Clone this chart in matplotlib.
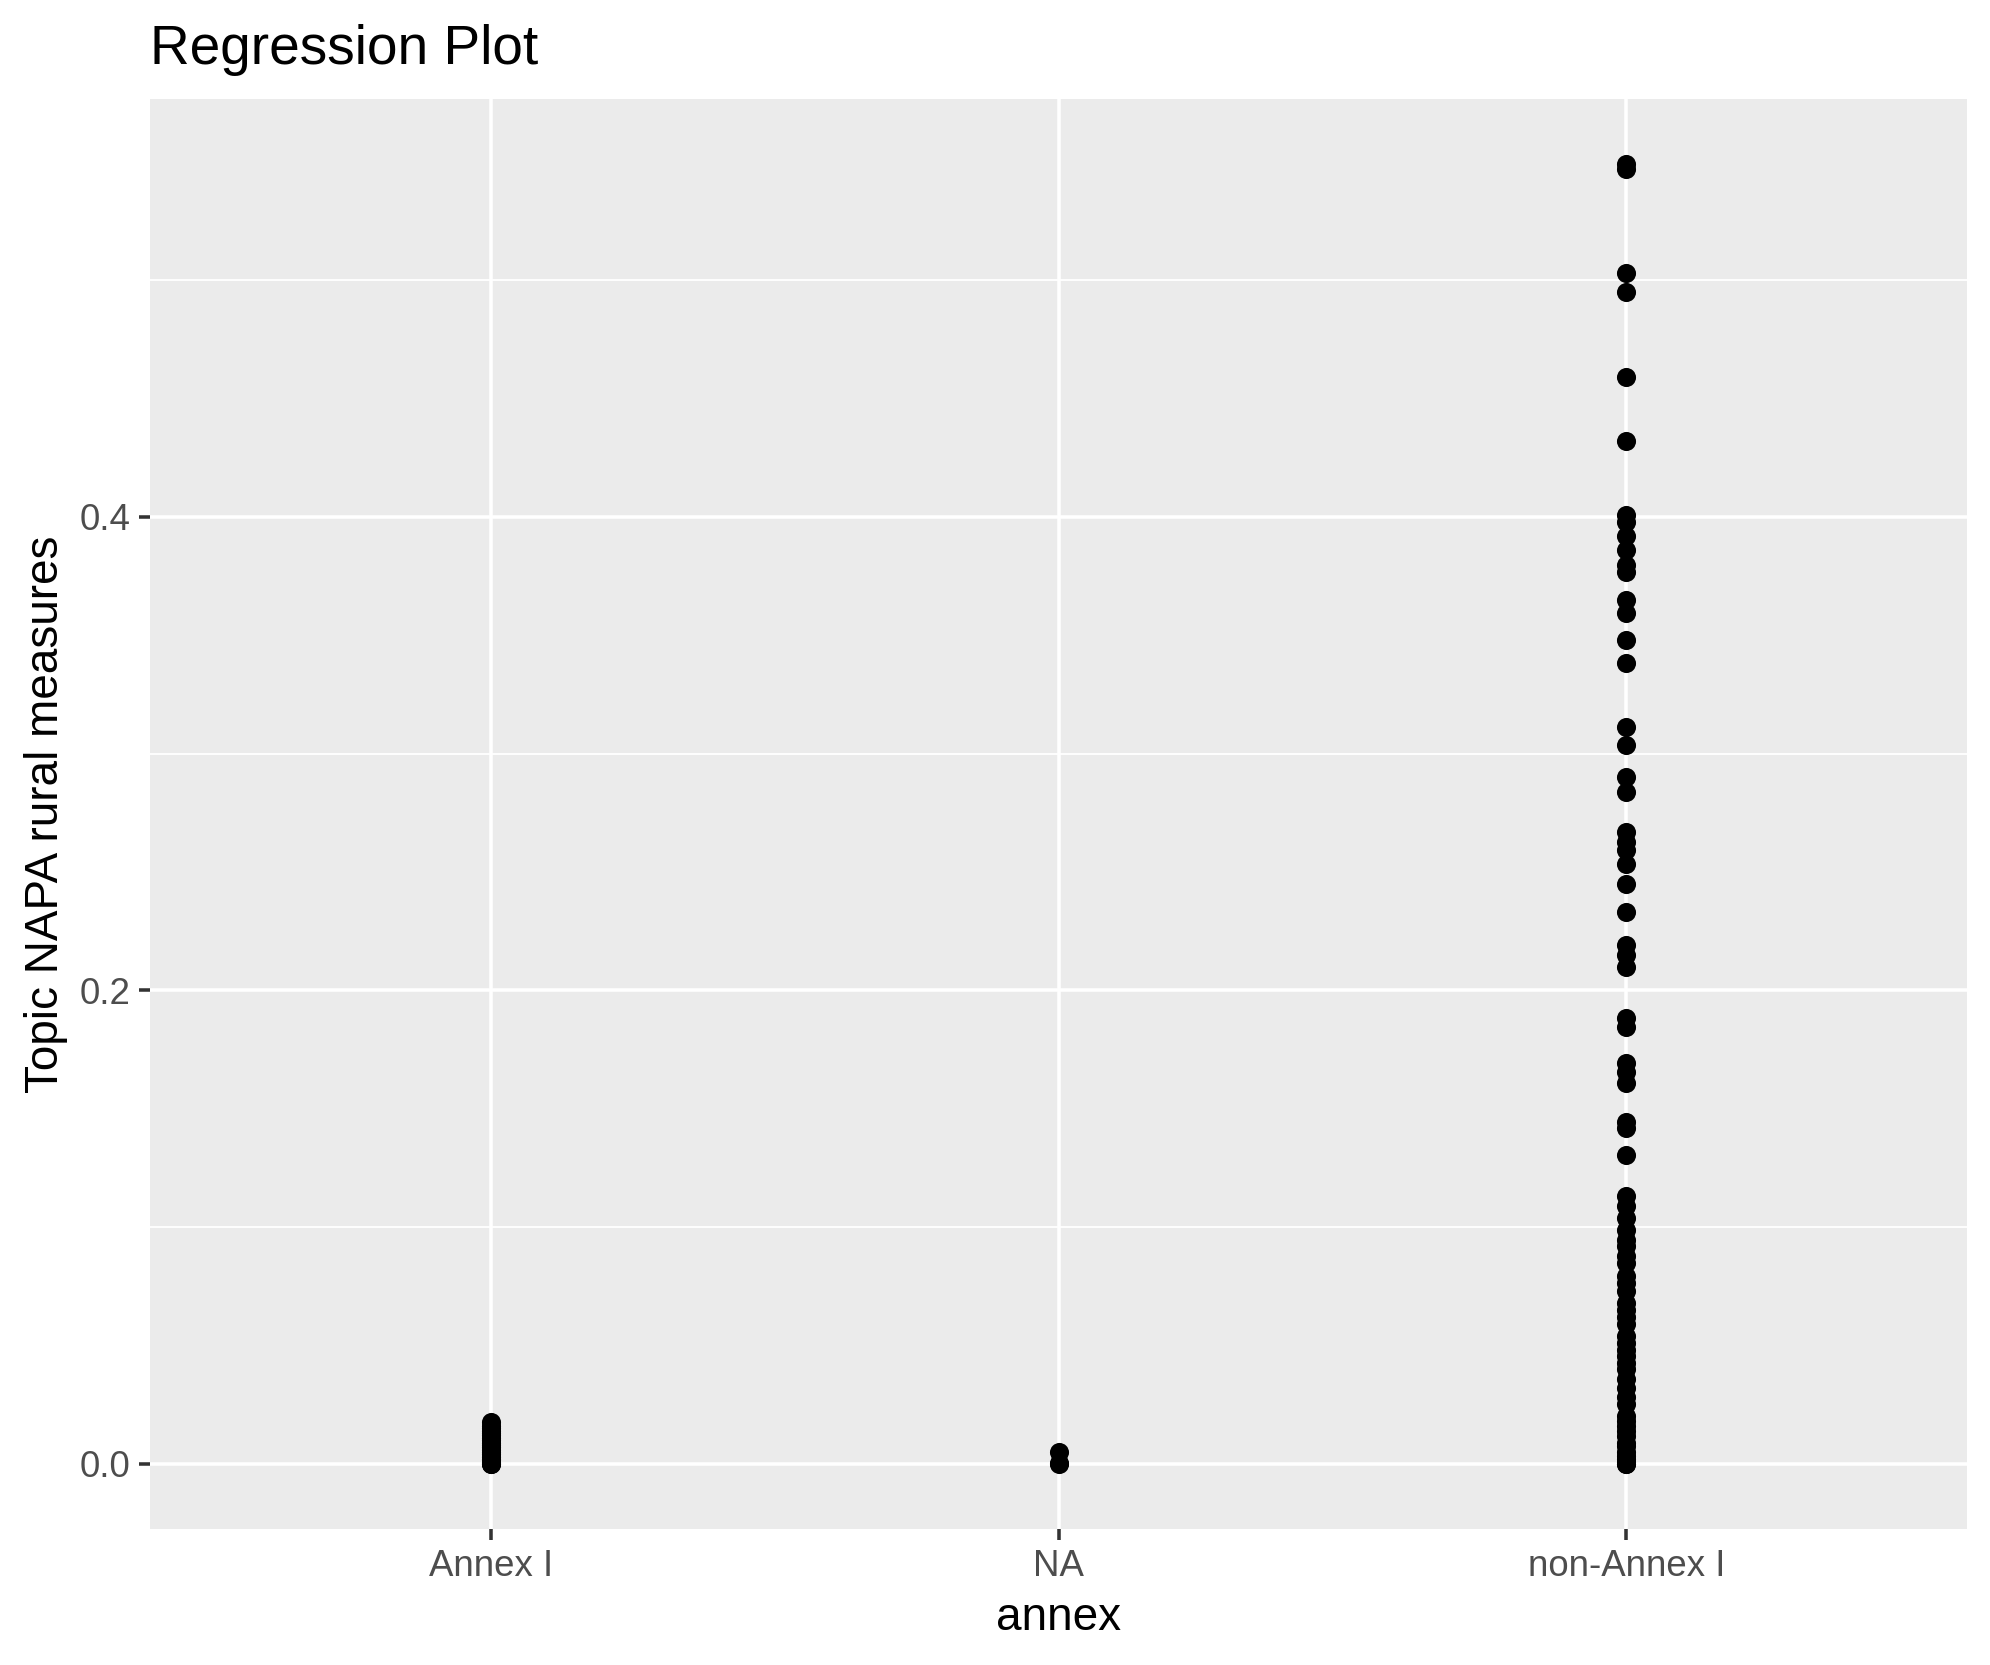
import matplotlib.pyplot as plt
from matplotlib.ticker import MultipleLocator
import numpy as np

plt.rcParams['font.family'] = ['Liberation Sans', 'DejaVu Sans']

categories = ['Annex I', 'NA', 'non-Annex I']

# topic share per document
annex_i = [0.0, 0.0, 0.0005, 0.001, 0.0015, 0.002, 0.003, 0.004, 0.005, 0.006,
           0.007, 0.008, 0.009, 0.010, 0.011, 0.012, 0.013, 0.014, 0.015,
           0.016, 0.0175]
na = [0.0, 0.0005, 0.005]
non_annex_i = [0.549, 0.547, 0.503, 0.495, 0.459, 0.432,
               0.401, 0.398, 0.392, 0.386, 0.3796, 0.3767, 0.3648, 0.3592,
               0.348, 0.3383, 0.3113, 0.3036, 0.2902, 0.2839, 0.267, 0.2628,
               0.2593, 0.2534, 0.2449, 0.2333, 0.2192, 0.215, 0.21,
               0.1883, 0.1847, 0.1693, 0.1657, 0.1608, 0.1446, 0.1419, 0.1306,
               0.113, 0.1088, 0.1039, 0.0989, 0.0945, 0.0919, 0.0876, 0.0849,
               0.0792, 0.0763, 0.0729, 0.068, 0.065, 0.062, 0.0589, 0.0539,
               0.0512, 0.0483, 0.0455, 0.0427, 0.0399, 0.036, 0.0321, 0.0282,
               0.0251, 0.0202, 0.018, 0.0159, 0.014, 0.0117, 0.009, 0.0075,
               0.005, 0.0033, 0.002, 0.001, 0.0, 0.0]

groups = [annex_i, na, non_annex_i]

fig = plt.figure(figsize=(1990 / 300, 1665 / 300), dpi=300)
ax = fig.add_axes([150 / 1990, 1 - 1529 / 1665, (1967 - 150) / 1990, (1529 - 99) / 1665])
ax.set_facecolor('#EBEBEB')
for s in ax.spines.values():
    s.set_visible(False)

for i, vals in enumerate(groups):
    ax.scatter(np.full(len(vals), i + 1), vals, s=21, color='black',
               linewidths=0, zorder=3)

ax.set_xlim(0.4, 3.6)
ax.set_ylim(-0.0275, 0.5765)
ax.set_xticks([1, 2, 3])
ax.set_xticklabels(categories)
ax.yaxis.set_major_locator(MultipleLocator(0.2))
ax.yaxis.set_minor_locator(MultipleLocator(0.1))
ax.yaxis.set_major_formatter(plt.FuncFormatter(lambda v, p: '%.1f' % v))

ax.grid(which='major', color='white', linewidth=0.85, zorder=0)
ax.grid(which='minor', axis='y', color='white', linewidth=0.45, zorder=0)
ax.set_axisbelow(True)
ax.tick_params(which='major', length=2.75, width=0.85, color='#333333',
               labelcolor='#4D4D4D', labelsize=8.8, pad=2)
ax.tick_params(which='minor', length=0)

ax.set_xlabel('annex', fontsize=11, labelpad=3)
ax.set_ylabel('Topic NAPA rural measures', fontsize=11, labelpad=2.8)
ax.set_title('Regression Plot', fontsize=13.2, loc='left', pad=8.5)

fig.savefig('out.png', dpi=300)
